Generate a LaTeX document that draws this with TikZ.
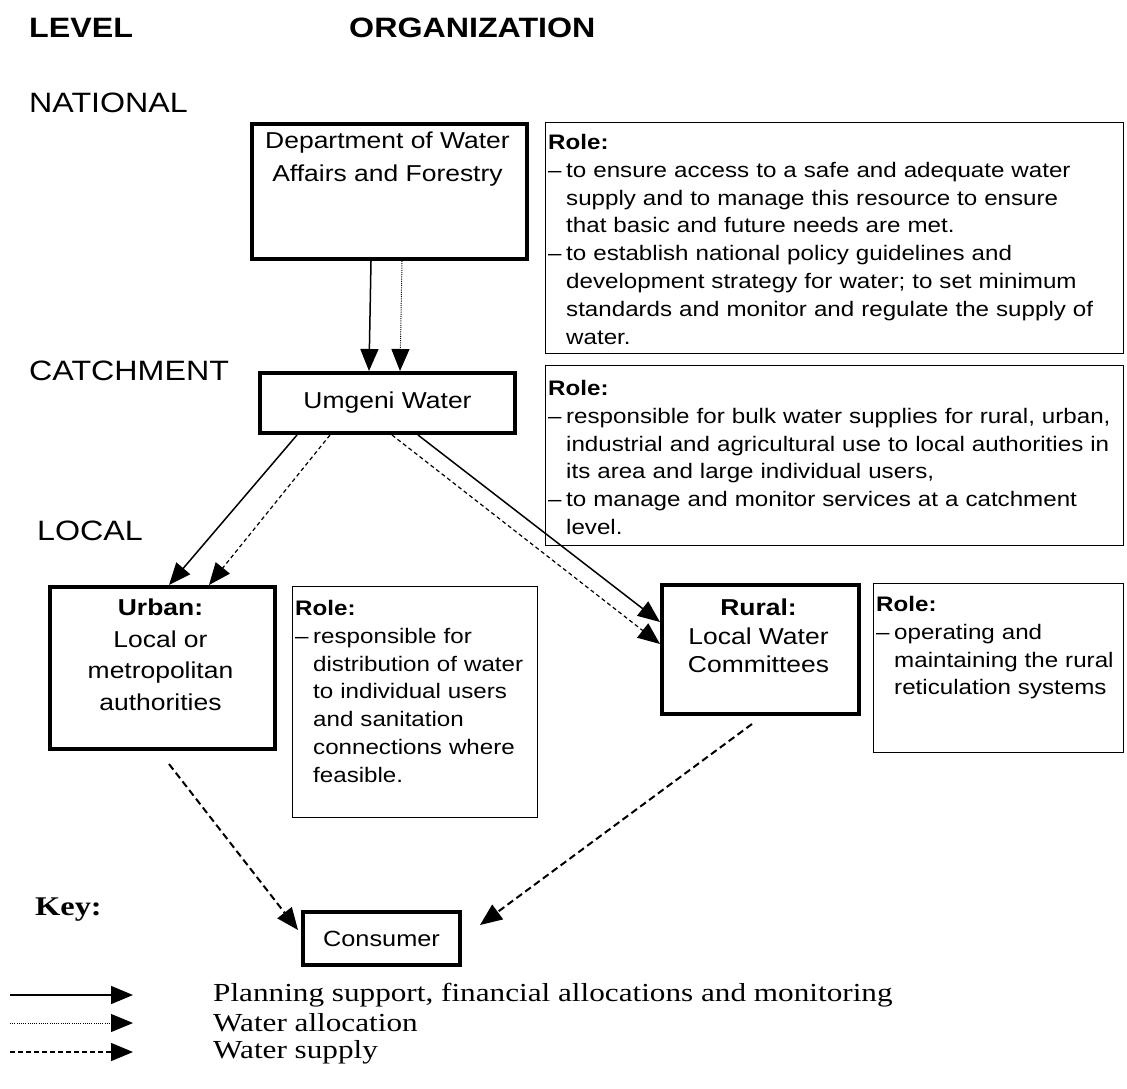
\documentclass[tikz,border=0pt]{standalone}
\usepackage{fontspec}
\setmainfont{Liberation Serif}
\newfontfamily\arialf{Liberation Sans}[FakeStretch=1.15]
\newfontfamily\timesf{Liberation Serif}[FakeStretch=1.2]
\usetikzlibrary{arrows.meta,calc}
\newcommand\ritem[1]{\par\hangindent=18pt\hangafter=1\noindent\makebox[18pt][l]{–}#1\par}
\tikzset{
  lvl/.style={anchor=west, inner sep=0, font=\arialf\fontsize{28}{32}\selectfont},
  orgbox/.style={draw, line width=4pt, inner sep=0, anchor=north west},
  orgtext/.style={anchor=north, inner sep=0, align=center, font=\arialf\fontsize{23}{31}\selectfont},
  rolebox/.style={draw, line width=1.3pt, inner sep=0, anchor=north west},
  roletext/.style={anchor=north west, inner sep=0, align=left, font=\arialf\fontsize{21}{27.8}\selectfont},
  tip/.style={-{Triangle[length=22pt,width=18pt]}},
  plan/.style={tip, line width=1.5pt},
  alloc/.style={tip, line width=1pt, dash pattern=on 1pt off 1.2pt},
  finedash/.style={tip, line width=1.2pt, dash pattern=on 4pt off 3pt},
  supply/.style={tip, line width=2pt, dash pattern=on 7pt off 4pt},
  keytext/.style={anchor=west, inner sep=0, font=\timesf\fontsize{26}{28}\selectfont},
}
\begin{document}
\begin{tikzpicture}[x=1pt,y=-1pt]
\useasboundingbox[fill=white] (0,0) rectangle (1127,1088);

% level labels
\node[lvl, font=\arialf\bfseries\fontsize{28}{32}\selectfont] (hlevel) at (29,28) {LEVEL};
\node[lvl, font=\arialf\bfseries\fontsize{28}{32}\selectfont] (horg) at (349,28) {ORGANIZATION};
\node[lvl] (lnat) at (29,103) {NATIONAL};
\node[lvl] (lcat) at (29,371) {CATCHMENT};
\node[lvl] (lloc) at (37,531) {LOCAL};

% organisation boxes
\node[orgbox, minimum width=275pt, minimum height=135pt] (dept) at (250,122) {};
\node[orgtext, font=\arialf\fontsize{23}{33}\selectfont] (deptt) at (387.5,132) {Department of Water\\Affairs and Forestry};
\node[orgbox, minimum width=255pt, minimum height=60pt, anchor=center, font=\arialf\fontsize{23}{31}\selectfont] (umg) at (387.5,403) {Umgeni Water};
\node[orgbox, minimum width=225pt, minimum height=162pt] (urban) at (48,585) {};
\node[orgtext, font=\arialf\fontsize{23}{31.5}\selectfont] (urbant) at (160.5,599) {\textbf{Urban:}\\Local or\\metropolitan\\authorities};
\node[orgbox, minimum width=197pt, minimum height=129pt] (rural) at (660,583) {};
\node[orgtext, font=\arialf\fontsize{23}{28.5}\selectfont] (ruralt) at (758.5,599) {\textbf{Rural:}\\Local Water\\Committees};
\node[orgbox, minimum width=157pt, minimum height=53pt, anchor=center, font=\arialf\fontsize{22}{28}\selectfont] (cons) at (381.5,938.5) {Consumer};

% role boxes
\node[rolebox, minimum width=578pt, minimum height=231pt] (role1) at (545,122) {};
\node[roletext, text width=572pt] (role1t) at (548,134) {\textbf{Role:}%
\ritem{to ensure access to a safe and adequate water\newline supply and to manage this resource to ensure\newline that basic and future needs are met.}%
\ritem{to establish national policy guidelines and\newline development strategy for water; to set minimum\newline standards and monitor and regulate the supply of\newline water.}};

\node[rolebox, minimum width=578pt, minimum height=180pt] (role2) at (545,365) {};
\node[roletext, text width=572pt] (role2t) at (548,380) {\textbf{Role:}%
\ritem{responsible for bulk water supplies for rural, urban,\newline industrial and agricultural use to local authorities in\newline its area and large individual users,}%
\ritem{to manage and monitor services at a catchment\newline level.}};

\node[rolebox, minimum width=245pt, minimum height=231pt] (role3) at (292,586) {};
\node[roletext, text width=240pt] (role3t) at (295,600) {\textbf{Role:}%
\ritem{responsible for\newline distribution of water\newline to individual users\newline and sanitation\newline connections where\newline feasible.}};

\node[rolebox, minimum width=250pt, minimum height=169pt] (role4) at (873,583) {};
\node[roletext, text width=245pt] (role4t) at (876,596) {\textbf{Role:}%
\ritem{operating and\newline maintaining the rural\newline reticulation systems}};

% connectors
\draw[plan]  ([xshift=-18.5pt]dept.south) -- ([xshift=-18.5pt]umg.north);
\draw[alloc] ([xshift=12.5pt]dept.south) -- ([xshift=12.5pt]umg.north);

\draw[plan]     ([xshift=-90.5pt]umg.south) -- ([xshift=6.5pt]urban.north);
\draw[finedash] ([xshift=-57.5pt]umg.south) -- ([xshift=46.5pt]urban.north);
\draw[plan]     ([xshift=30.5pt]umg.south) -- ([yshift=27.5pt]rural.west);
\draw[finedash] ([xshift=4.5pt]umg.south) -- ([yshift=5.5pt]rural.west);

\draw[supply] ([xshift=6.5pt,yshift=-13pt]urban.south) -- ([xshift=-3pt,yshift=8.5pt]cons.west);
\draw[supply] ([xshift=-8.5pt,yshift=-8pt]rural.south) -- ([xshift=18pt,yshift=13.5pt]cons.east);

% key
\node[anchor=west, inner sep=0, font=\timesf\bfseries\fontsize{27}{30}\selectfont] (key) at (35,910) {Key:};
\coordinate (k1a) at (10,995);  \coordinate (k1b) at (133,995);
\coordinate (k2a) at (10,1023); \coordinate (k2b) at (133,1023);
\coordinate (k3a) at (10,1052); \coordinate (k3b) at (133,1052);
\draw[plan] (k1a) -- (k1b);
\draw[alloc] (k2a) -- (k2b);
\draw[tip, line width=1.5pt, dash pattern=on 5pt off 3pt] (k3a) -- (k3b);
\node[keytext] (kt1) at (213,995) {Planning support, financial allocations and monitoring};
\node[keytext] (kt2) at (213,1023) {Water allocation};
\node[keytext] (kt3) at (213,1052) {Water supply};
\end{tikzpicture}
\end{document}
